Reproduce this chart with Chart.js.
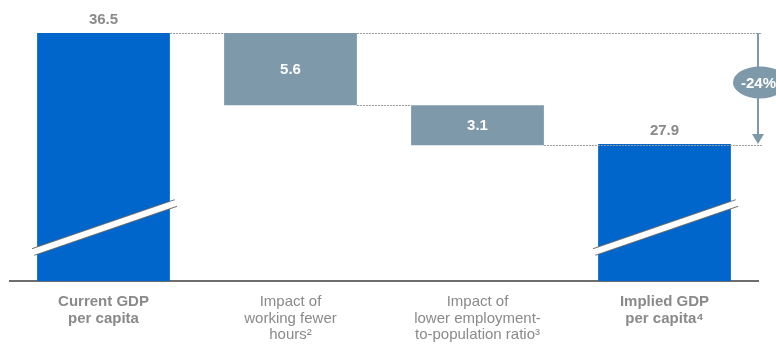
<!DOCTYPE html>
<html>
<head>
<meta charset="utf-8">
<script src="https://cdn.jsdelivr.net/npm/chart.js@4"></script>
<style>
  html, body { margin: 0; padding: 0; background: #fff; }
  #wrap { width: 776px; height: 350px; }
</style>
</head>
<body>
<div id="wrap"><canvas id="myChart" width="776" height="350"></canvas></div>
<script>
var categories = [
    ["Current GDP", "per capita"],
    ["Impact of", "working fewer", "hours\u00B2"],
    ["Impact of", "lower employment-", "to-population ratio\u00B3"],
    ["Implied GDP", "per capita\u2074"]
];
var values = [36.5, -5.6, -3.1, 27.9];
var isTotal = [true, false, false, true];
var valueLabels = ["36.5", "5.6", "3.1", "27.9"];
var changeLabel = "-24%";

var blue = "#0066cc";
var steel = "#7e99a9";
var textGray = "#8a8a8a";
var font = "'Liberation Sans', Arial, sans-serif";

// waterfall ranges
var running = 0;
var ranges = values.map(function (v, i) {
    if (isTotal[i]) { running = v; return [0, v]; }
    var r = [running + v, running];
    running += v;
    return r;
});

var waterfall = {
    id: "waterfall",
    afterDatasetsDraw: function (chart) {
        var ctx = chart.ctx;
        var y = chart.scales.y;
        var area = chart.chartArea;
        var bars = chart.getDatasetMeta(0).data;
        var half = function (b) { return b.width / 2; };

        ctx.save();
        // dashed connectors
        ctx.strokeStyle = "#9a9a9a";
        ctx.lineWidth = 1;
        ctx.setLineDash([2, 1]);
        var dash = function (x1, x2, v) {
            var py = Math.round(y.getPixelForValue(v)) + 0.5;
            ctx.beginPath(); ctx.moveTo(x1, py); ctx.lineTo(x2, py); ctx.stroke();
        };
        var top = ranges[0][1];
        dash(bars[0].x + half(bars[0]), bars[1].x - half(bars[1]), top);
        dash(bars[1].x + half(bars[1]), area.right + 4, top);
        dash(bars[1].x + half(bars[1]), bars[2].x - half(bars[2]), ranges[1][0]);
        dash(bars[2].x + half(bars[2]), area.right + 4, ranges[2][0]);
        ctx.setLineDash([]);

        // axis break marks on the total bars
        [0, 3].forEach(function (i) {
            var b = bars[i];
            var x1 = b.x - half(b) - 4, x2 = b.x + half(b) + 6;
            var y1 = area.bottom - 29, y2 = area.bottom - 78;
            ctx.lineCap = "butt";
            ctx.strokeStyle = "#6e6e6e";
            ctx.lineWidth = 8;
            ctx.beginPath(); ctx.moveTo(x1, y1); ctx.lineTo(x2, y2); ctx.stroke();
            ctx.strokeStyle = "#ffffff";
            ctx.lineWidth = 6;
            ctx.beginPath(); ctx.moveTo(x1 - 1, y1 + 0.4); ctx.lineTo(x2 + 1, y2 - 0.4); ctx.stroke();
        });

        // value labels
        ctx.textAlign = "center";
        ctx.textBaseline = "middle";
        ctx.font = "bold 15px " + font;
        bars.forEach(function (b, i) {
            if (isTotal[i]) {
                ctx.fillStyle = textGray;
                ctx.fillText(valueLabels[i], b.x, b.y - 13);
            } else {
                ctx.fillStyle = "#ffffff";
                ctx.fillText(valueLabels[i], b.x, (b.y + b.base) / 2 + 1);
            }
        });

        // change arrow
        var ax = area.right;
        var yTop = y.getPixelForValue(values[0]);
        var yBot = y.getPixelForValue(values[3]);
        ctx.strokeStyle = steel;
        ctx.fillStyle = steel;
        ctx.lineWidth = 2;
        ctx.beginPath(); ctx.moveTo(ax, yTop); ctx.lineTo(ax, yBot - 8); ctx.stroke();
        ctx.beginPath();
        ctx.moveTo(ax - 6, yBot - 10); ctx.lineTo(ax + 6, yBot - 10); ctx.lineTo(ax, yBot); ctx.closePath();
        ctx.fill();
        var cy = (yTop + yBot) / 2 - 6;
        ctx.beginPath();
        ctx.ellipse(ax + 2, cy, 27, 16, 0, 0, Math.PI * 2);
        ctx.fill();
        ctx.fillStyle = "#ffffff";
        ctx.textAlign = "left";
        ctx.font = "bold 15px " + font;
        ctx.fillText(changeLabel, ax - 17, cy + 1);
        ctx.restore();
    }
};

var ctx = document.getElementById("myChart").getContext("2d");

var myChart = new Chart(ctx, {
    type: "bar",
    data: {
        labels: categories,
        datasets: [{
            data: ranges,
            backgroundColor: isTotal.map(function (t) { return t ? blue : steel; }),
            borderSkipped: false,
            barPercentage: 1,
            categoryPercentage: 0.71,
            clip: 0
        }]
    },
    options: {
        responsive: false,
        animation: false,
        layout: { padding: { top: 10, left: 10, right: 18, bottom: 0 } },
        plugins: { legend: { display: false }, tooltip: { enabled: false } },
        scales: {
            x: {
                grid: { display: false },
                border: { display: true, color: "#6e6e6e", width: 2 },
                ticks: {
                    color: textGray,
                    padding: 5,
                    maxRotation: 0,
                    autoSkip: false,
                    font: function (c) {
                        return {
                            family: font,
                            size: 15,
                            lineHeight: 1.1,
                            weight: (c.index === 0 || c.index === 3) ? "bold" : "normal"
                        };
                    }
                },
                afterFit: function (scale) { scale.height = 69; }
            },
            y: {
                display: false,
                min: 17.27,
                max: 38.28
            }
        }
    },
    plugins: [waterfall]
});
</script>
</body>
</html>
